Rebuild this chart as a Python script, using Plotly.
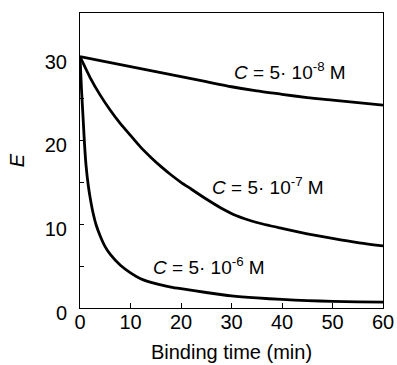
import plotly.graph_objects as go

# Binding time (min) and E values for three concentrations
t_low = [0, 5, 10, 15, 20, 25, 30, 35, 40, 45, 50, 55, 60]
e_low = [30, 29.4, 28.8, 28.2, 27.6, 27.0, 26.4, 25.9, 25.5, 25.1, 24.8, 24.5, 24.2]

t_mid = [0, 2, 4, 6, 8, 10, 12, 14, 16, 18, 20, 22, 25, 28, 31, 35, 40, 45, 50, 55, 60]
e_mid = [30, 27.5, 25.4, 23.6, 22.0, 20.6, 19.2, 18.0, 16.9, 15.9, 15.0, 14.2, 13.0, 11.9, 11.0, 10.2, 9.5, 8.85, 8.3, 7.8, 7.4]

t_high = [0, 0.3, 0.6, 0.9, 1.2, 1.6, 2, 2.6, 3.2, 4, 5, 6, 8, 10, 12, 15, 18, 20, 25, 30, 35, 40, 45, 50, 55, 60]
e_high = [30, 26, 22.8, 19.5, 17.0, 14.8, 13.2, 11.3, 9.9, 8.6, 7.3, 6.4, 5.1, 4.2, 3.5, 2.9, 2.5, 2.3, 1.85, 1.45, 1.2, 1.02, 0.88, 0.8, 0.74, 0.7]

labels = ["<i>C</i> = 5· 10<sup>-8</sup> M", "<i>C</i> = 5· 10<sup>-7</sup> M", "<i>C</i> = 5· 10<sup>-6</sup> M"]
label_x = [41.5, 37.2, 25.5]
label_y = [28.3, 14.6, 5.0]

x_ticks = [0, 10, 20, 30, 40, 50, 60]
y_ticks = [0, 10, 20, 30]
y_minor_ticks = [5, 15, 25]

FONT = "Arial, Liberation Sans, sans-serif"

fig = go.Figure()
for tx, ey in [(t_low, e_low), (t_mid, e_mid), (t_high, e_high)]:
    fig.add_trace(go.Scatter(x=tx, y=ey, mode="lines",
                             line=dict(color="black", width=2.8, shape="spline", smoothing=0.6),
                             showlegend=False, hoverinfo="skip"))

for txt, lx, ly in zip(labels, label_x, label_y):
    fig.add_annotation(x=lx, y=ly, text=txt, showarrow=False,
                       font=dict(family=FONT, size=19, color="black"))

fig.update_layout(
    width=397, height=365,
    margin=dict(l=80, r=14, t=13, b=57),
    paper_bgcolor="white", plot_bgcolor="white",
    font=dict(family=FONT, size=20, color="black"),
)
fig.update_xaxes(range=[0, 60], tickvals=x_ticks, ticks="inside", ticklen=5,
                 tickcolor="black", showline=True, linecolor="black", linewidth=1,
                 mirror=True, showgrid=False, zeroline=False, automargin=False,
                 ticklabelstandoff=-4,
                 title=dict(text="Binding time (min)", font=dict(size=20), standoff=12),
                 tickfont=dict(size=20))
fig.update_yaxes(range=[0, 35.2], tickvals=y_ticks,
                 ticks="inside", ticklen=4, tickcolor="black",
                 minor=dict(tickvals=y_minor_ticks, ticks="inside", ticklen=4,
                            tickcolor="black", showgrid=False),
                 showline=True, linecolor="black", linewidth=1, mirror=True,
                 showgrid=False, zeroline=False, automargin=False,
                 ticklabelstandoff=8, ticklabelshift=5,
                 title=dict(text="<i>E</i>", font=dict(size=20), standoff=14),
                 tickfont=dict(size=20))

fig.write_html("out.html", config={"displayModeBar": False},
               post_script="document.body.style.margin='0';")
